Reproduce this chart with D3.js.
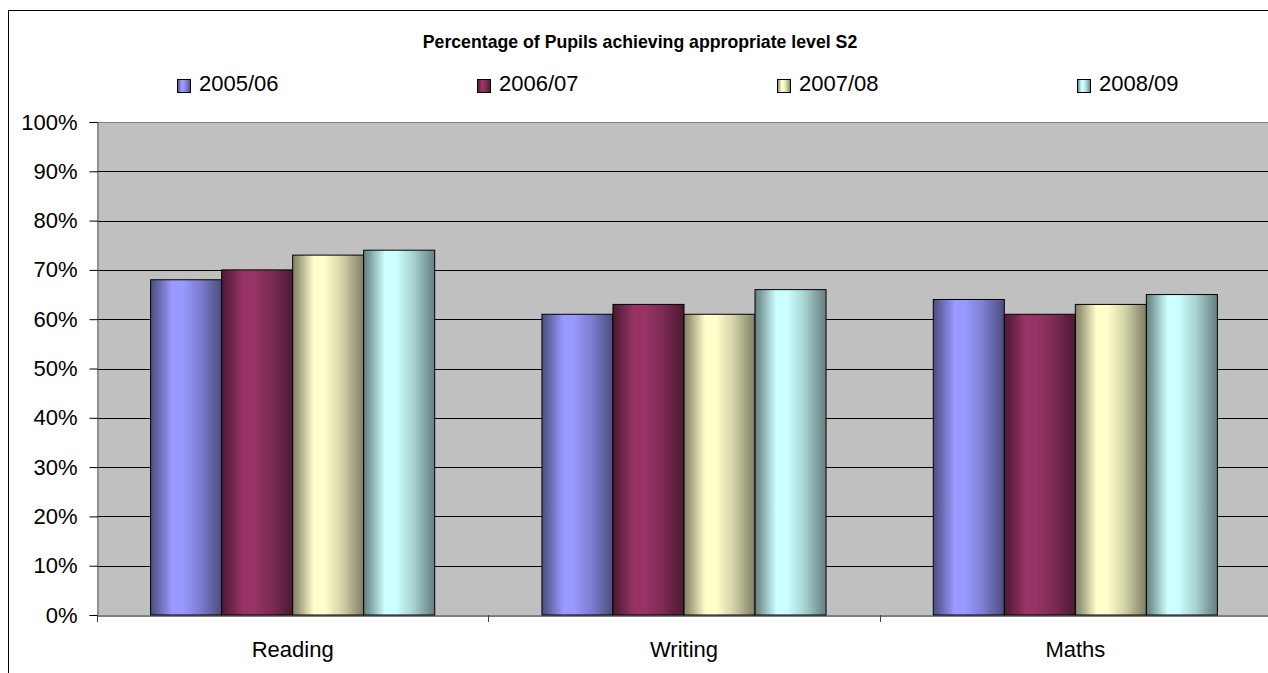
<!DOCTYPE html>
<html>
<head>
<meta charset="utf-8">
<script src="https://cdn.jsdelivr.net/npm/d3@7"></script>
<style>
  html, body { margin: 0; padding: 0; background: #fff; }
  svg { display: block; font-family: "Liberation Sans", Arial, sans-serif; }
</style>
</head>
<body>
<svg id="chart" width="1268" height="673"></svg>
<script>
// ---- data ----
const title = "Percentage of Pupils achieving appropriate level S2";
const categories = ["Reading", "Writing", "Maths"];
const seriesNames = ["2005/06", "2006/07", "2007/08", "2008/09"];
const values2005 = [68, 61, 64];
const values2006 = [70, 63, 61];
const values2007 = [73, 61, 63];
const values2008 = [74, 66, 65];
const seriesColors = ["#9999FF", "#993366", "#FFFFCC", "#CCFFFF"];
const yTickValues = [0, 10, 20, 30, 40, 50, 60, 70, 80, 90, 100];

const seriesValues = [values2005, values2006, values2007, values2008];
const series = seriesNames.map((name, i) => ({ name, color: seriesColors[i], values: seriesValues[i] }));

// ---- layout ----
const W = 1268, H = 673;
const plot = { left: 97, top: 122, right: 1271, bottom: 615 };
const svg = d3.select("#chart");

// gradients (cylinder-like shading)
const defs = svg.append("defs");
const shade = [[0, 0.5], [0.08, 0.62], [0.3, 1.0], [0.45, 1.0], [0.7, 0.82], [0.92, 0.58], [1, 0.5]];
series.forEach((s, i) => {
  const g = defs.append("linearGradient").attr("id", "grad" + i)
    .attr("x1", "0%").attr("x2", "100%").attr("y1", "0%").attr("y2", "0%");
  const c = d3.rgb(s.color);
  shade.forEach(([o, k]) => {
    g.append("stop").attr("offset", (o * 100) + "%")
      .attr("stop-color", d3.rgb(c.r * k, c.g * k, c.b * k).formatHex());
  });
});

// frame
svg.append("rect").attr("x", 8.5).attr("y", 10.5).attr("width", W + 20).attr("height", H + 20)
  .attr("fill", "#fff").attr("stroke", "#000").attr("stroke-width", 1);

// scales
const x0 = d3.scaleBand().domain(categories).range([plot.left, plot.right]).padding(0);
const x1 = d3.scaleBand().domain(seriesNames).range([0, x0.bandwidth()]).paddingInner(0).paddingOuter(0.755);
const y = d3.scaleLinear().domain([0, 100]).range([plot.bottom, plot.top]);

// plot area
svg.append("rect").attr("x", plot.left).attr("y", plot.top)
  .attr("width", plot.right - plot.left).attr("height", plot.bottom - plot.top)
  .attr("fill", "#C0C0C0");

// gridlines
svg.append("g").selectAll("line").data(yTickValues.filter(v => v > 0 && v < 100)).join("line")
  .attr("x1", plot.left).attr("x2", plot.right)
  .attr("y1", d => Math.round(y(d)) + 0.5).attr("y2", d => Math.round(y(d)) + 0.5)
  .attr("stroke", "#000").attr("stroke-width", 1);

// plot border (top)
svg.append("line").attr("x1", plot.left).attr("x2", plot.right)
  .attr("y1", plot.top + 0.5).attr("y2", plot.top + 0.5).attr("stroke", "#808080");

// bars
const groups = svg.append("g").selectAll("g").data(categories).join("g")
  .attr("transform", d => `translate(${x0(d)},0)`);
groups.selectAll("rect").data((d, ci) => series.map((s, si) => ({ s, si, v: s.values[ci] }))).join("rect")
  .attr("x", d => x1(d.s.name))
  .attr("width", x1.bandwidth())
  .attr("y", d => y(d.v))
  .attr("height", d => y(0) - y(d.v))
  .attr("fill", d => `url(#grad${d.si})`)
  .attr("stroke", "#000").attr("stroke-width", 1);

// y axis
const yAxis = d3.axisLeft(y).tickValues(yTickValues).tickFormat(d => d + "%").tickSizeOuter(0).tickSize(8).tickPadding(12);
const ya = svg.append("g").attr("transform", `translate(${plot.left + 0.5},0)`).call(yAxis);
ya.select(".domain").attr("stroke", "#606060");
ya.selectAll(".tick line").attr("stroke", "#000");
ya.selectAll("text").attr("font-size", 22).attr("fill", "#000").attr("font-family", "Liberation Sans, Arial, sans-serif");

// x axis
const xa = svg.append("g").attr("transform", `translate(0,${plot.bottom + 0.5})`)
  .call(d3.axisBottom(x0).tickSize(0).tickPadding(26).tickSizeOuter(0));
xa.select(".domain").attr("stroke", "#000");
xa.selectAll("text").attr("font-size", 22).attr("fill", "#000").attr("font-family", "Liberation Sans, Arial, sans-serif");
// category separators ticks
svg.append("g").selectAll("line").data(categories).join("line")
  .attr("x1", d => Math.round(x0(d)) + 0.5).attr("x2", d => Math.round(x0(d)) + 0.5)
  .attr("y1", plot.bottom).attr("y2", plot.bottom + 7)
  .attr("stroke", "#404040");

// title
svg.append("text").attr("x", 640).attr("y", 48).attr("text-anchor", "middle")
  .attr("font-size", 17.7).attr("font-weight", "bold").text(title);

// legend
const legendX = d3.scalePoint().domain(seriesNames).range([177, 1077]);
const lg = svg.append("g").selectAll("g").data(series).join("g")
  .attr("transform", d => `translate(${legendX(d.name)},0)`);
lg.append("rect").attr("x", 0.5).attr("y", 79.5).attr("width", 13).attr("height", 13)
  .attr("fill", (d, i) => `url(#grad${i})`).attr("stroke", "#000");
lg.append("text").attr("x", 22).attr("y", 91).attr("font-size", 22).text(d => d.name);
</script>
</body>
</html>
